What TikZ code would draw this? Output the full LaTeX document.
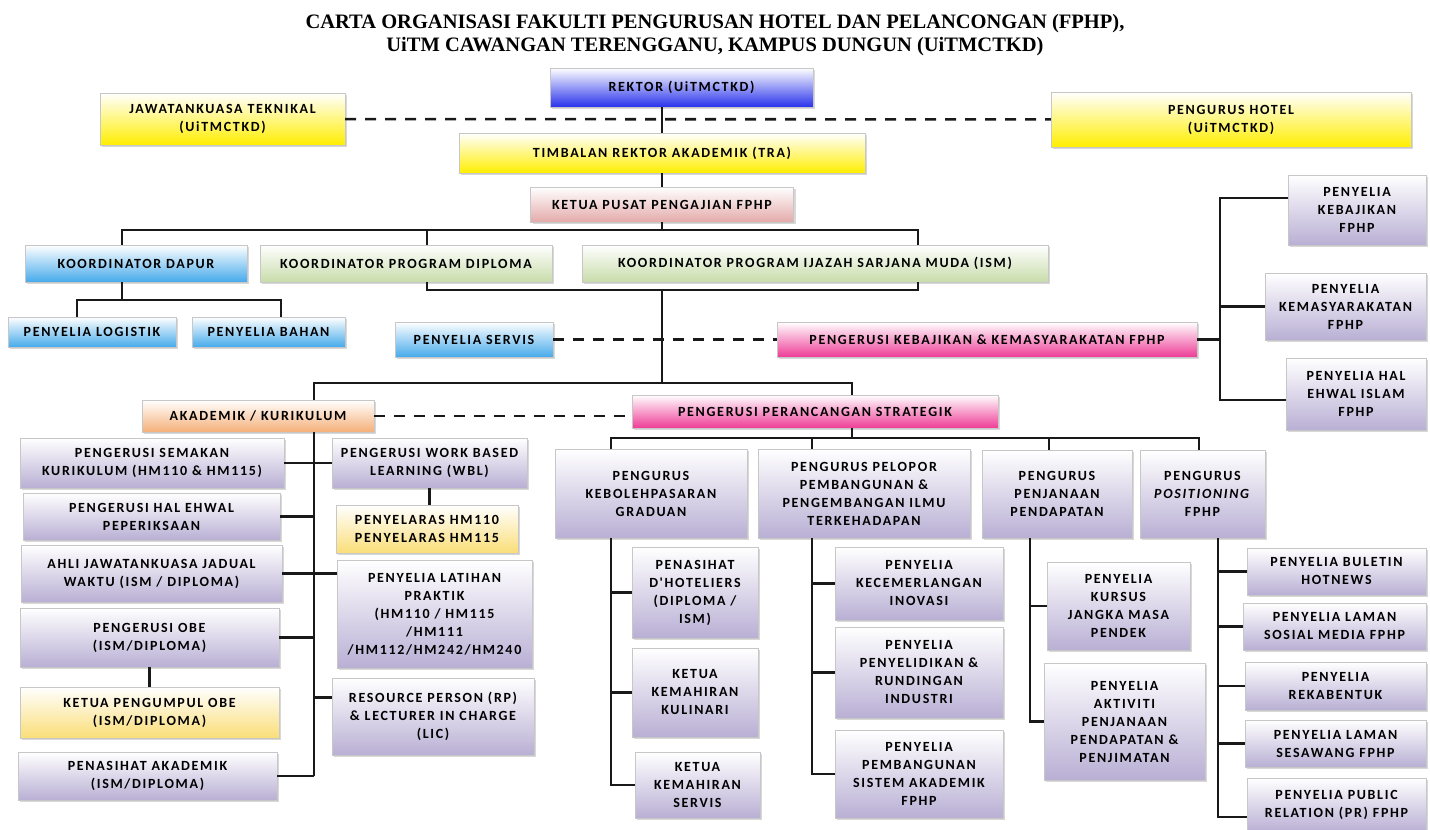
\documentclass[tikz,border=0pt]{standalone}
\usepackage{fontspec}
\setmainfont{Carlito}
\newfontfamily\boxfont{Carlito}[LetterSpace=12]
\newfontfamily\titlefont{Liberation Serif}
\usetikzlibrary{shadows}

\definecolor{rekblue}{RGB}{40,50,235}
\definecolor{yel}{RGB}{255,238,0}
\definecolor{rose}{RGB}{228,170,170}
\definecolor{sky}{RGB}{70,170,235}
\definecolor{grn}{RGB}{200,220,170}
\definecolor{mag}{RGB}{238,60,150}
\definecolor{org}{RGB}{245,175,120}
\definecolor{lav}{RGB}{185,175,212}
\definecolor{lyel}{RGB}{250,222,120}

\begin{document}
\begin{tikzpicture}[x=1pt, y=-1pt,
  box/.style={draw=black!22, align=center, inner sep=1pt,
    font=\boxfont\bfseries\fontsize{14}{18}\selectfont,
    drop shadow={shadow xshift=2pt, shadow yshift=-2pt, opacity=0.3}},
  sz/.style 2 args={minimum width=#1pt, minimum height=#2pt},
  bbox/.style={box, top color=white, bottom color=rekblue},
  ybox/.style={box, top color=white, bottom color=yel},
  rbox/.style={box, top color=white, bottom color=rose},
  sbox/.style={box, top color=white, bottom color=sky},
  gbox/.style={box, top color=white, bottom color=grn},
  mbox/.style={box, top color=white, bottom color=mag},
  obox/.style={box, top color=white, bottom color=org},
  lbox/.style={box, top color=white, bottom color=lav},
  lybox/.style={box, top color=white, bottom color=lyel},
  link/.style={line width=2.6pt, black!90},
  dsh/.style={link, dash pattern=on 11pt off 9pt}]

\useasboundingbox[fill=white] (0,0) rectangle (1430,830);

\node[font=\titlefont\bfseries\fontsize{20.5}{23}\selectfont, align=center] (ttl) at (715,35)
  {CARTA ORGANISASI FAKULTI PENGURUSAN HOTEL DAN PELANCONGAN (FPHP),\\
   UiTM CAWANGAN TERENGGANU, KAMPUS DUNGUN (UiTMCTKD)};

\node[bbox, sz={263}{39}] (rek) at (681.5,87.5) {REKTOR (UiTMCTKD)};
\node[ybox, sz={245}{52}] (jk) at (222.5,119) {JAWATANKUASA TEKNIKAL\\(UiTMCTKD)};
\node[ybox, sz={360}{55}] (ph) at (1231,119.5) {PENGURUS HOTEL\\(UiTMCTKD)};
\node[ybox, sz={406}{40}] (tra) at (662,153) {TIMBALAN REKTOR AKADEMIK (TRA)};
\node[rbox, sz={263}{35}] (kpp) at (662,204.5) {KETUA PUSAT PENGAJIAN FPHP};

\node[sbox, sz={222}{37}] (kd) at (136,263.5) {KOORDINATOR DAPUR};
\node[gbox, sz={292}{37}] (kpd) at (406,263.5) {KOORDINATOR PROGRAM DIPLOMA};
\node[gbox, sz={466}{37}] (ism) at (815,263.5) {KOORDINATOR PROGRAM IJAZAH SARJANA MUDA (ISM)};
\node[sbox, sz={168}{30}] (pl) at (92,332) {PENYELIA LOGISTIK};
\node[sbox, sz={153}{30}] (pb) at (268.5,332) {PENYELIA BAHAN};
\node[sbox, sz={158}{35}] (ps) at (474,339.5) {PENYELIA SERVIS};
\node[mbox, sz={420}{35}] (pk) at (987,339.5) {PENGERUSI KEBAJIKAN \& KEMASYARAKATAN FPHP};

\node[lbox, sz={138}{70}] (pkb) at (1357,210) {PENYELIA\\KEBAJIKAN\\FPHP};
\node[lbox, sz={161}{67}] (pkm) at (1345.5,306.5) {PENYELIA\\KEMASYARAKATAN\\FPHP};
\node[lbox, sz={140}{72}] (pis) at (1356,394) {PENYELIA HAL\\EHWAL ISLAM\\FPHP};

\node[obox, sz={232}{32}] (akd) at (258,416) {AKADEMIK / KURIKULUM};
\node[mbox, sz={366}{33}] (prs) at (815,411.5) {PENGERUSI PERANCANGAN STRATEGIK};

\node[lbox, sz={264}{50}] (sk) at (152,463) {PENGERUSI SEMAKAN\\KURIKULUM (HM110 \& HM115)};
\node[lbox, sz={257}{47}] (he) at (151.5,516.5) {PENGERUSI HAL EHWAL\\PEPERIKSAAN};
\node[lbox, sz={261}{57}] (ajk) at (151.5,573.5) {AHLI JAWATANKUASA JADUAL\\WAKTU (ISM / DIPLOMA)};
\node[lbox, sz={259}{59}] (obe) at (149.5,637.5) {PENGERUSI OBE\\(ISM/DIPLOMA)};
\node[lybox, sz={259}{51}] (kpo) at (149.5,712.5) {KETUA PENGUMPUL OBE\\(ISM/DIPLOMA)};
\node[lbox, sz={259}{48}] (pa) at (147.5,776) {PENASIHAT AKADEMIK\\(ISM/DIPLOMA)};

\node[lbox, sz={195}{50}] (wbl) at (429.5,463) {PENGERUSI WORK BASED\\LEARNING (WBL)};
\node[lybox, sz={182}{48}] (pyl) at (427,529) {PENYELARAS HM110\\PENYELARAS HM115};
\node[lbox, sz={195}{108}] (lat) at (434.5,614) {PENYELIA LATIHAN\\PRAKTIK\\(HM110 / HM115\\/HM111\\/HM112/HM242/HM240};
\node[lbox, sz={202}{77}] (rp) at (433,716.5) {RESOURCE PERSON (RP)\\\& LECTURER IN CHARGE\\(LIC)};

\node[lbox, sz={192}{89}] (kbg) at (651,493.5) {PENGURUS\\KEBOLEHPASARAN\\GRADUAN};
\node[lbox, sz={212}{89}] (ppl) at (864,493.5) {PENGURUS PELOPOR\\PEMBANGUNAN \&\\PENGEMBANGAN ILMU\\TERKEHADAPAN};
\node[lbox, sz={150}{88}] (ppd) at (1057,494) {PENGURUS\\PENJANAAN\\PENDAPATAN};
\node[lbox, sz={125}{88}] (pos) at (1202.5,494) {PENGURUS\\\textit{POSITIONING}\\FPHP};

\node[lbox, sz={126}{91}] (dh) at (695,592.5) {PENASIHAT\\D'HOTELIERS\\(DIPLOMA /\\ISM)};
\node[lbox, sz={126}{89}] (kk) at (695,692.5) {KETUA\\KEMAHIRAN\\KULINARI};
\node[lbox, sz={125}{66}] (ks) at (697.5,785) {KETUA\\KEMAHIRAN\\SERVIS};

\node[lbox, sz={168}{73}] (ino) at (919,583.5) {PENYELIA\\KECEMERLANGAN\\INOVASI};
\node[lbox, sz={168}{91}] (pri) at (919,672.5) {PENYELIA\\PENYELIDIKAN \&\\RUNDINGAN\\INDUSTRI};
\node[lbox, sz={168}{88}] (sis) at (919,774) {PENYELIA\\PEMBANGUNAN\\SISTEM AKADEMIK\\FPHP};

\node[lbox, sz={143}{88}] (kjm) at (1118.5,606) {PENYELIA\\KURSUS\\JANGKA MASA\\PENDEK};
\node[lbox, sz={161}{117}] (akt) at (1124.5,721.5) {PENYELIA\\AKTIVITI\\PENJANAAN\\PENDAPATAN \&\\PENJIMATAN};

\node[lbox, sz={179}{47}] (bul) at (1336.5,571.5) {PENYELIA BULETIN\\HOTNEWS};
\node[lbox, sz={183}{47}] (sos) at (1334.5,626.5) {PENYELIA LAMAN\\SOSIAL MEDIA FPHP};
\node[lbox, sz={181}{48}] (rek2) at (1335.5,686) {PENYELIA\\REKABENTUK};
\node[lbox, sz={181}{47}] (ses) at (1335.5,743.5) {PENYELIA LAMAN\\SESAWANG FPHP};
\node[lbox, sz={179}{54}] (pr) at (1336.5,805) {PENYELIA PUBLIC\\RELATION (PR) FPHP};

\coordinate (j1) at (662,230);
\coordinate (j2) at (427,230);
\coordinate (j3) at (918,230);
\coordinate (j5) at (918,290);
\coordinate (j6) at (662,383);
\coordinate (d0) at (122,300);
\coordinate (d1) at (77,300);
\coordinate (d2) at (281,300);
\coordinate (r1) at (1220,198);
\coordinate (r2) at (1220,400);
\coordinate (a1) at (314,383);
\coordinate (a2) at (852,383);
\coordinate (s1) at (314,432);
\coordinate (s2) at (314,776);
\coordinate (m1) at (611,438);
\coordinate (m2) at (1199,438);
\coordinate (m3) at (812,438);
\coordinate (m4) at (1049,438);
\coordinate (m5) at (1030,538);
\coordinate (m6) at (1218,538);

\draw[link] (tra.north) -- (tra.north |- rek.south);
\draw[dsh] (jk) -- (ph);
\draw[link] (tra) -- (kpp);
\draw[link] (kpp.south) -- (j1);
\draw[link] (kd.north -| d0) |- (j3) -- (j3 |- ism.north);
\draw[link] (j2) -- (j2 |- kpd.north);
\draw[link] (j2 |- kpd.south) |- (j5) -- (j5 |- ism.south);
\draw[link] (j1 |- j5) -- (j6);
\draw[link] (kd.south -| d0) -- (d0);
\draw[link] (d1 |- pl.north) -- (d1) -- (d2) -- (d2 |- pb.north);
\draw[dsh] (ps) -- (pk);
\draw[link] (pk.east) -- (pk.east -| r1);
\draw[link] (r1 -| pkb.west) -- (r1) -- (r2) -- (r2 -| pis.west);
\draw[link] (r1 |- pkm.west) -- (pkm.west);

\draw[link] (akd.north -| a1) |- (a2) -- (a2 |- prs.north);
\draw[dsh] (akd.east) -- (akd.east -| prs.west);
\draw[link] (s1) -- (s2);
\draw[link] (sk.east) -- (wbl.west);
\draw[link] (he.east) -- (he.east -| s1);
\draw[link] (ajk.east) -- (ajk.east -| lat.west);
\draw[link] (obe.east) -- (obe.east -| s1);
\draw[link] (pa.east) -- (s2);
\draw[link] ([yshift=19pt]rp.west) -- ([yshift=19pt]rp.west -| s1);
\draw[link] (wbl.south) -- (wbl.south |- pyl.north);
\draw[link] (obe) -- (kpo);

\draw[link] (a2 |- prs.south) -- (a2 |- m1);
\draw[link] (m1 |- kbg.north) -- (m1) -- (m2) -- (m2 |- pos.north);
\draw[link] (m3) -- (m3 |- ppl.north);
\draw[link] (m4) -- (m4 |- ppd.north);
\draw[link] (kbg.south -| m1) |- (ks.west);
\draw[link] (m1 |- dh.west) -- (dh.west);
\draw[link] (m1 |- kk.west) -- (kk.west);
\draw[link] (ppl.south -| m3) |- (sis.west);
\draw[link] (m3 |- ino.west) -- (ino.west);
\draw[link] (m3 |- pri.west) -- (pri.west);
\draw[link] (m5) |- (akt.west);
\draw[link] (m5 |- kjm.west) -- (kjm.west);
\draw[link] (m6) |- ([yshift=-12pt]pr.west);
\draw[link] (m6 |- bul.west) -- (bul.west);
\draw[link] (m6 |- sos.west) -- (sos.west);
\draw[link] (m6 |- rek2.west) -- (rek2.west);
\draw[link] (m6 |- ses.west) -- (ses.west);
\end{tikzpicture}
\end{document}
